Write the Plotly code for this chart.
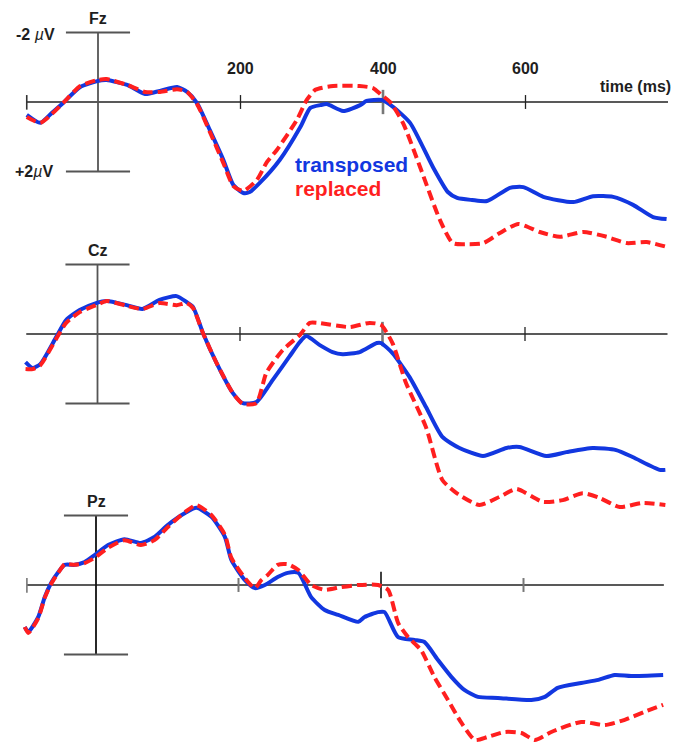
import plotly.graph_objects as go

# ---------------- data (time in ms, amplitude in microvolts; negative plotted up) -------------
fz_t_blue = [-100, -81, -65, -49, -25, -1, 12, 41, 66, 87, 111, 125, 139, 157, 176, 190, 204, 213, 227,
             255, 284, 298, 312, 321, 344, 368, 377, 398, 414, 438, 470, 491, 504, 525, 546, 578, 597,
             625, 667, 695, 723, 751, 779, 798]
fz_v_blue = [0.37, 0.60, 0.32, 0.03, -0.43, -0.60, -0.63, -0.49, -0.23, -0.32, -0.43, -0.29, 0.03, 0.81,
             1.67, 2.39, 2.62, 2.59, 2.33, 1.67, 0.72, 0.17, 0.09, 0.06, 0.26, 0.09, -0.03, -0.06, 0.14,
             0.60, 1.87, 2.59, 2.76, 2.82, 2.85, 2.47, 2.45, 2.73, 2.88, 2.71, 2.73, 2.96, 3.31, 3.37]
fz_t_red = [-100, -81, -65, -49, -25, -1, 12, 41, 66, 87, 111, 125, 139, 157, 176, 190, 204, 223, 237,
            251, 279, 293, 305, 330, 367, 386, 398, 410, 428, 452, 480, 498, 520, 541, 564, 590, 620,
            648, 681, 714, 742, 770, 798]
fz_v_red = [0.43, 0.60, 0.35, 0.03, -0.46, -0.63, -0.66, -0.49, -0.29, -0.29, -0.37, -0.29, 0.06, 0.86,
            1.76, 2.42, 2.56, 2.24, 1.73, 1.38, 0.52, -0.06, -0.35, -0.46, -0.46, -0.40, -0.20, 0.0,
            0.60, 1.87, 3.40, 4.06, 4.09, 4.06, 3.77, 3.51, 3.74, 3.88, 3.74, 3.88, 4.06, 4.03, 4.17]

cz_t_blue = [-101, -91, -80, -58, -44, -25, -2, 13, 41, 63, 87, 111, 125, 134, 148, 167, 190, 204, 223,
             246, 269, 284, 293, 312, 330, 344, 368, 392, 398, 414, 438, 461, 484, 508, 541, 574, 592,
             630, 658, 695, 728, 751, 789, 797]
cz_v_blue = [0.81, 0.98, 0.86, 0.09, -0.40, -0.69, -0.89, -0.95, -0.83, -0.72, -0.98, -1.09, -0.92,
             -0.78, -0.03, 0.83, 1.70, 1.99, 1.96, 1.32, 0.66, 0.23, 0.06, 0.32, 0.52, 0.58, 0.52, 0.26,
             0.26, 0.55, 1.24, 2.10, 2.96, 3.28, 3.51, 3.28, 3.25, 3.51, 3.40, 3.28, 3.34, 3.54, 3.91, 3.91]
cz_t_red = [-101, -91, -80, -58, -44, -25, -2, 13, 41, 63, 87, 111, 125, 134, 148, 167, 190, 204, 223,
            237, 260, 284, 298, 309, 354, 382, 398, 414, 433, 461, 484, 504, 536, 564, 588, 625, 653,
            681, 705, 733, 765, 797]
cz_v_red = [1.01, 1.01, 0.89, 0.14, -0.32, -0.63, -0.83, -0.95, -0.81, -0.72, -0.89, -0.83, -0.89, -0.75,
            -0.03, 0.83, 1.70, 2.01, 1.99, 1.12, 0.46, 0.03, -0.32, -0.32, -0.20, -0.32, -0.26, 0.26,
            1.41, 2.68, 4.20, 4.58, 4.92, 4.69, 4.46, 4.83, 4.78, 4.58, 4.72, 4.98, 4.86, 4.92]

pz_t_blue = [-100, -95, -81, -72, -63, -53, -44, -30, -16, -2, 17, 40, 63, 82, 101, 125, 141, 162, 181,
             190, 209, 223, 237, 255, 269, 284, 302, 321, 340, 368, 377, 396, 405, 424, 447, 461, 480,
             499, 517, 536, 564, 611, 630, 648, 681, 705, 728, 751, 796]
pz_v_blue = [1.21, 1.35, 0.92, 0.35, -0.06, -0.37, -0.58, -0.58, -0.66, -0.86, -1.15, -1.32, -1.21,
             -1.38, -1.73, -2.07, -2.22, -1.96, -1.38, -0.72, -0.14, 0.09, 0.0, -0.23, -0.35, -0.35,
             0.35, 0.72, 0.86, 1.06, 0.92, 0.78, 0.78, 1.50, 1.58, 1.64, 2.16, 2.65, 3.02, 3.22, 3.25,
             3.31, 3.22, 2.96, 2.82, 2.73, 2.59, 2.62, 2.59]
pz_t_red = [-100, -95, -81, -72, -63, -53, -44, -30, -16, -2, 17, 40, 63, 82, 101, 125, 141, 162, 181,
            190, 209, 223, 232, 241, 255, 269, 284, 302, 321, 344, 368, 396, 410, 424, 438, 456, 475,
            494, 513, 532, 550, 574, 597, 616, 639, 681, 714, 742, 770, 796]
pz_v_red = [1.21, 1.38, 0.95, 0.37, -0.03, -0.35, -0.60, -0.58, -0.63, -0.78, -1.07, -1.29, -1.15,
            -1.29, -1.67, -2.10, -2.30, -2.01, -1.44, -0.78, -0.20, 0.09, -0.14, -0.29, -0.58, -0.60,
            -0.43, 0.0, 0.14, 0.06, 0.0, 0.0, 0.14, 1.09, 1.50, 1.87, 2.65, 3.31, 3.97, 4.46, 4.37,
            4.23, 4.26, 4.46, 4.23, 3.94, 4.03, 3.88, 3.65, 3.45]

panel_names = ["Fz", "Cz", "Pz"]
tick_times = [200, 400, 600]
tick_labels = ["200", "400", "600"]
series_names = ["transposed", "replaced"]

# ---------------- layout geometry ----------------
W, H = 686, 744
PX_PER_MS = 0.7125
PX_PER_UV = 34.75
zero_x = [98, 97.5, 96]      # pixel x of t = 0 in each panel
zero_y = [102, 334, 585]     # pixel y of 0 uV in each panel

BLUE = "#1237e0"
RED = "#ff1f1f"
TXT = "#1e1e1e"
FONT = "Liberation Sans, Arial, sans-serif"

fig = go.Figure()
panels = [
    (fz_t_blue, fz_v_blue, fz_t_red, fz_v_red),
    (cz_t_blue, cz_v_blue, cz_t_red, cz_v_red),
    (pz_t_blue, pz_v_blue, pz_t_red, pz_v_red),
]

shapes = []
annotations = []
axis_ends = [(-100, 800), (-100, 800), (-97, 797)]
for i, (tb, vb, tr, vr) in enumerate(panels):
    xa = "x" if i == 0 else f"x{i+1}"
    ya = "y" if i == 0 else f"y{i+1}"
    fig.add_trace(go.Scatter(x=tb, y=vb, xaxis=xa, yaxis=ya, mode="lines", name=series_names[0],
                             line=dict(color=BLUE, width=4, shape="spline", smoothing=0.6),
                             showlegend=False, hoverinfo="skip"))
    fig.add_trace(go.Scatter(x=tr, y=vr, xaxis=xa, yaxis=ya, mode="lines", name=series_names[1],
                             line=dict(color=RED, width=4, dash="10px,5px", shape="spline", smoothing=0.6),
                             showlegend=False, hoverinfo="skip"))
    # zero line
    shapes.append(dict(type="line", xref=xa, yref=ya, x0=axis_ends[i][0], x1=axis_ends[i][1], y0=0, y1=0,
                       line=dict(color="#222", width=1.5), layer="below"))
    # calibration bar
    bar_col = "#111" if i == 2 else "#555"
    shapes.append(dict(type="line", xref=xa, yref=ya, x0=0, x1=0, y0=-2, y1=2,
                       line=dict(color=bar_col, width=1.8), layer="below"))
    for yv in (-2, 2):
        shapes.append(dict(type="line", xref=xa, yref=ya, x0=-45, x1=45, y0=yv, y1=yv,
                           line=dict(color="#555", width=2), layer="below"))
    # ticks
    for tt in tick_times:
        big = (tt == 400)
        half = 0.35 if big else 0.2
        if i == 2 and tt == 400:
            col, wd, half = "#111", 1.6, 0.38
        elif big:
            col, wd = "#777", 2.6
        else:
            col, wd = ("#777", 2) if i == 2 else ("#222", 1.3)
        shapes.append(dict(type="line", xref=xa, yref=ya, x0=tt, x1=tt, y0=-half, y1=half,
                           line=dict(color=col, width=wd), layer="below"))
    if i != 1:
        shapes.append(dict(type="line", xref=xa, yref=ya, x0=axis_ends[i][0], x1=axis_ends[i][0],
                           y0=-0.2, y1=0.22, line=dict(color="#333" if i == 0 else "#777", width=1.6),
                           layer="below"))
    # panel label
    annotations.append(dict(text=f"<b>{panel_names[i]}</b>", xref=xa, yref=ya, x=0, y=-2.4,
                            showarrow=False, font=dict(family=FONT, size=16, color=TXT)))

# Fz-only annotations
annotations.append(dict(text="<b>-2 </b><i>µ</i><b>V</b>", xref="x", yref="y", x=-57, y=-1.95, xanchor="right",
                        showarrow=False, font=dict(family=FONT, size=16, color=TXT)))
annotations.append(dict(text="<b>+2</b><i>µ</i><b>V</b>", xref="x", yref="y", x=-60, y=2.0, xanchor="right",
                        showarrow=False, font=dict(family=FONT, size=16, color=TXT)))
for tt, lab in zip(tick_times, tick_labels):
    annotations.append(dict(text=f"<b>{lab}</b>", xref="x", yref="y", x=tt, y=-0.95,
                            showarrow=False, font=dict(family=FONT, size=16, color=TXT)))
annotations.append(dict(text="<b>time (ms)</b>", xref="x", yref="y", x=807, y=-0.46, xanchor="right",
                        showarrow=False, font=dict(family=FONT, size=16, color=TXT)))
annotations.append(dict(text=f"<b>{series_names[0]}</b>", xref="x", yref="y", x=273, y=1.81, xanchor="left",
                        showarrow=False, font=dict(family=FONT, size=21, color=BLUE)))
annotations.append(dict(text=f"<b>{series_names[1]}</b>", xref="x", yref="y", x=273, y=2.5, xanchor="left",
                        showarrow=False, font=dict(family=FONT, size=21, color=RED)))

layout = dict(width=W, height=H, autosize=False, margin=dict(l=0, r=0, t=0, b=0),
              paper_bgcolor="white", plot_bgcolor="white", shapes=shapes, annotations=annotations,
              showlegend=False)
for i in range(3):
    xk = "xaxis" if i == 0 else f"xaxis{i+1}"
    yk = "yaxis" if i == 0 else f"yaxis{i+1}"
    xr = [(-zero_x[i]) / PX_PER_MS, (W - zero_x[i]) / PX_PER_MS]
    yr = [(H - zero_y[i]) / PX_PER_UV, (-zero_y[i]) / PX_PER_UV]
    xd = dict(range=xr, visible=False, fixedrange=True)
    yd = dict(range=yr, visible=False, fixedrange=True)
    if i > 0:
        xd["overlaying"] = "x"
        yd["overlaying"] = "y"
        xd["anchor"] = f"y{i+1}"
        yd["anchor"] = f"x{i+1}"
    layout[xk] = xd
    layout[yk] = yd

fig.update_layout(**layout)
fig.write_html("out.html", config={"displayModeBar": False},
               post_script="document.body.style.margin='0';document.body.style.padding='0';")
